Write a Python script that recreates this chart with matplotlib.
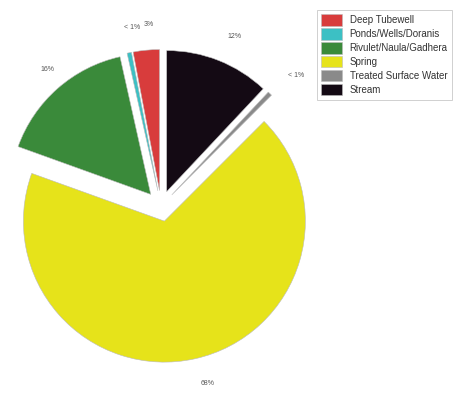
import matplotlib
matplotlib.use('Agg')
import matplotlib.pyplot as plt

sources = ['Deep Tubewell', 'Ponds/Wells/Doranis', 'Rivulet/Naula/Gadhera',
           'Spring', 'Treated Surface Water', 'Stream']
shares = [3, 0.5, 16, 68, 0.5, 12]
share_labels = ['3%', '< 1%', '16%', '68%', '< 1%', '12%']
colors = ['#d83c3c', '#3cc0c4', '#3a8a3a', '#e6e31a', '#8a8a8a', '#140a14']

plt.rcParams['font.family'] = ['Liberation Sans', 'DejaVu Sans']

fig = plt.figure(figsize=(4.59, 3.98), dpi=100)
ax = fig.add_axes([0, 0, 1, 1])

# explode offset is in data units here (1 unit = 1 px)
wedges, texts = ax.pie(shares, labels=share_labels, colors=colors,
                       explode=[15.5] * len(shares), startangle=90,
                       counterclock=True, center=(161, 192), radius=141,
                       labeldistance=1.18, frame=True,
                       wedgeprops=dict(edgecolor='#bbbbbb', linewidth=0.4),
                       textprops=dict(fontsize=5, color='#555555'))
ax.set_xlim(0, 459)
ax.set_ylim(0, 398)
ax.axis('off')

leg = fig.legend(wedges, sources, loc='upper left',
                 bbox_to_anchor=(317 / 459, 1 - 10 / 398), borderaxespad=0,
                 fontsize=7, frameon=True, fancybox=False,
                 edgecolor='#bbbbbb', handlelength=2.1, handleheight=1.4,
                 handletextpad=0.8, labelspacing=0.28, borderpad=0.45)
leg.get_frame().set_linewidth(0.6)
for t in leg.get_texts():
    t.set_color('#333333')

fig.savefig('out.png', dpi=100)
